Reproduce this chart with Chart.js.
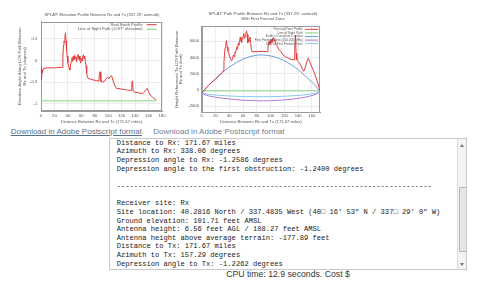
<!DOCTYPE html>
<html>
<head>
<meta charset="utf-8">
<script src="https://cdn.jsdelivr.net/npm/chart.js@4.4.1/dist/chart.umd.min.js"></script>
<style>
  html, body { margin: 0; padding: 0; background: #fff; width: 500px; height: 285px; overflow: hidden; }
  canvas { position: absolute; top: 0; }
  #elevChart { left: 0; }
  #pathChart { left: 168px; }
  .dl { position: absolute; top: 127px; font: 8px "Liberation Sans", Arial, sans-serif; line-height: 10px; white-space: nowrap; }
  #dl1 { left: 10.7px; color: #56728e; text-decoration: underline; }
  #dl2 { left: 153.3px; color: #6f7e8d; }
  #report { position: absolute; left: 109px; top: 138px; width: 356px; height: 130px; border: 1px solid #c9c9c9; overflow: hidden; background: #fff; }
  #report pre { position: absolute; left: 6.7px; top: -0.4px; margin: 0; font: 7.1px "Liberation Mono", "Courier New", monospace; line-height: 8.65px; color: #1a1a1a; }
  #sb { position: absolute; left: 347px; top: 0; width: 9px; height: 130px; background: #f3f3f3; border-left: 1px solid #dcdcdc; }
  #thumb { position: absolute; left: 1px; top: 48px; width: 6px; height: 63px; background: #e6e6e6; border: 1px solid #b5b5b5; border-radius: 1px; }
  .arr { position: absolute; left: 2px; width: 0; height: 0; border-left: 2px solid transparent; border-right: 2px solid transparent; }
  #up { top: 5px; border-bottom: 3px solid #777; }
  #down { top: 124px; border-top: 3px solid #777; }
  #cpu { position: absolute; left: 188px; width: 200px; top: 269px; text-align: center; font: 8.7px "Liberation Sans", Arial, sans-serif; line-height: 10px; color: #333; }
</style>
</head>
<body>
<canvas id="elevChart" width="168" height="126"></canvas>
<canvas id="pathChart" width="172" height="126"></canvas>
<span class="dl" id="dl1">Download in Adobe Postscript format</span>
<span class="dl" id="dl2">Download in Adobe Postscript format</span>
<div id="report">
<pre>Distance to Rx: 171.67 miles
Azimuth to Rx: 338.06 degrees
Depression angle to Rx: -1.2586 degrees
Depression angle to the first obstruction: -1.2400 degrees

--------------------------------------------------------------------------

Receiver site: Rx
Site location: 40.2816 North / 337.4835 West (40□ 16' 53" N / 337□ 29' 0" W)
Ground elevation: 101.71 feet AMSL
Antenna height: 6.56 feet AGL / 108.27 feet AMSL
Antenna height above average terrain: -177.89 feet
Distance to Tx: 171.67 miles
Azimuth to Tx: 157.29 degrees
Depression angle to Tx: -1.2262 degrees
Depression angle to the first obstruction: -1.2290 degrees</pre>
<div id="sb"><div class="arr" id="up"></div><div id="thumb"></div><div class="arr" id="down"></div></div>
</div>
<div id="cpu">CPU time: 12.9 seconds. Cost $</div>

<script>
// ---- elevation profile (left plot): distance in miles, angle in degrees
const elevDist = [
  0, 0.4, 0.8, 1.2, 1.6, 2, 3, 4, 6, 10,
  15, 20, 25, 30, 32, 32.6, 33.4, 34.2, 35, 35.6,
  36.4, 37.2, 38, 39, 40, 41, 42, 43, 44, 45,
  46, 47, 48, 49, 50, 51, 52, 53, 54, 55,
  56, 57, 58, 59, 60, 61, 62, 63, 64, 65,
  66, 67, 68, 69, 70, 74, 78, 82, 86, 87,
  88, 89, 92, 95, 97, 99, 101, 103, 105, 106,
  108, 110, 112, 116, 120, 124, 128, 132, 134, 135,
  136, 137, 139, 143, 147, 151, 153, 155, 157, 158,
  160, 163, 166, 169, 171.67
];
const elevAngle = [
  -0.14, -0.45, -0.3, -0.4, -0.22, -0.28, -0.2, -0.18, -0.18, -0.17,
  -0.17, -0.17, -0.16, -0.16, -0.16, 0.1, 0.35, 0.45, 0.42, 0.55,
  0.64, 0.45, 0.25, 0.1, -0.05, -0.12, -0.18, -0.22, -0.1, -0.03,
  0.06, -0.02, 0.1, 0.02, 0.12, 0.04, 0.08, -0.03, 0.1, 0.14,
  0.03, 0.1, 0.0, -0.06, 0.05, -0.01, 0.09, 0.13, 0.04, 0.1,
  -0.02, -0.12, -0.3, -0.38, -0.41, -0.43, -0.45, -0.46, -0.48, -0.3,
  -0.26, -0.48, -0.5, -0.47, -0.42, -0.38, -0.42, -0.37, -0.35, -0.4,
  -0.5, -0.58, -0.64, -0.65, -0.66, -0.67, -0.68, -0.69, -0.7, -0.55,
  -0.47, -0.68, -0.73, -0.74, -0.75, -0.76, -0.74, -0.7, -0.66, -0.64,
  -0.72, -0.8, -0.85, -0.88, -0.91
];
const losDist = [0, 171.67];
const losAngle = [-0.93, -0.93];
const elevXTicks = [0, 20, 40, 60, 80, 100, 120, 140, 160, 180];
const elevYTicks = [-1, -0.5, 0, 0.5];

// ---- path profile with Fresnel zone (right plot): distance in miles, height in feet
const pathDist = [
  0, 10, 20, 30, 31.5, 32.3, 33, 34, 35, 36,
  37, 38, 40, 42, 43.5, 45, 46, 47, 48, 49,
  50, 51, 52, 53, 54, 55, 56, 57, 58, 59,
  60, 61, 62, 63, 64, 65, 66, 67, 68, 69,
  70, 71, 72, 73, 80, 88, 95, 96, 97, 98,
  99, 100, 101, 102, 103, 104, 105, 106, 107, 108,
  110, 112, 115, 118, 122, 126, 130, 134, 135, 136,
  137, 138, 140, 142, 144, 146, 148, 150, 152, 154,
  155, 156, 158, 160, 162, 164, 166, 168, 170, 171.67
];
const pathHeight = [
  -350, 600, 1350, 2150, 2400, 3400, 4300, 5200, 5700, 6050,
  5300, 4800, 4300, 3800, 3600, 3900, 4300, 4100, 4600, 4500,
  5000, 5300, 5000, 5700, 5500, 6100, 6500, 6000, 5800, 6300,
  6600, 6950, 6300, 6500, 6800, 7250, 6800, 5800, 6200, 6000,
  6500, 5800, 5000, 4700, 4700, 4750, 4700, 5000, 5700, 6000,
  5600, 6000, 6200, 5800, 6300, 6450, 6000, 6200, 5800, 5600,
  5300, 5000, 4700, 4300, 4050, 3900, 3750, 3700, 5000, 6700,
  4500, 3700, 3500, 3300, 3000, 2600, 2300, 2700, 3300, 3800,
  3900, 3600, 3200, 2800, 2400, 2000, 1500, 1000, 400, -80
];
const losPathDist = [0, 171.67];
const losPathHeight = [-100, -100];
const zoneDist = [0, 5, 10, 20, 30, 40, 50, 60, 70, 80, 86, 90, 100, 110, 120, 130, 140, 150, 160, 166, 171.67];
const curveHeight = [-350, 100, 550, 1400, 2150, 2800, 3350, 3800, 4100, 4270, 4300, 4290, 4180, 3950, 3600, 3100, 2500, 1750, 950, 450, -200];
const fresnelHeight = [-350, -600, -720, -880, -1000, -1100, -1180, -1250, -1300, -1320, -1330, -1330, -1310, -1270, -1210, -1130, -1020, -880, -680, -520, -200];
const fresnel60Height = [-350, -450, -520, -610, -680, -730, -770, -800, -815, -820, -820, -820, -810, -790, -760, -720, -660, -580, -470, -380, -200];
const pathXTicks = [0, 20, 40, 60, 80, 100, 120, 140, 160];
const pathYTicks = [-2000, 0, 2000, 4000, 6000];

const FONT = '"Liberation Sans", Arial, sans-serif';
const TEXT = '#555';
const GRID = '#ececec';
const FRAME = '#9a9a9a';

const pts = (xs, ys) => xs.map((x, i) => ({ x: x, y: ys[i] }));

// gnuplot-like extras: closed frame, title lines and a key inside the plot
const gnuplotText = {
	id: 'gnuplotText',
	beforeDatasetsDraw(chart) {
		const a = chart.chartArea, ctx = chart.ctx;
		ctx.save();
		ctx.strokeStyle = FRAME;
		ctx.lineWidth = 1;
		ctx.strokeRect(Math.round(a.left) + 0.5, Math.round(a.top) + 0.5, Math.round(a.right - a.left) - 1, Math.round(a.bottom - a.top) - 1);
		ctx.restore();
	},
	afterDatasetsDraw(chart, args, o) {
		const ctx = chart.ctx;
		ctx.save();
		ctx.fillStyle = TEXT;
		ctx.textBaseline = 'middle';
		ctx.textAlign = 'center';
		ctx.font = o.titleSize + 'px ' + FONT;
		o.title.forEach((t, i) => ctx.fillText(t, o.titleX, o.titleY + i * o.titleStep));
		ctx.textAlign = 'right';
		ctx.font = o.keySize + 'px ' + FONT;
		chart.data.datasets.forEach((ds, i) => {
			const y = o.keyY + i * o.keyStep;
			ctx.fillText(ds.label, o.keyX, y);
			ctx.strokeStyle = ds.borderColor;
			ctx.lineWidth = 1;
			ctx.beginPath();
			ctx.moveTo(o.keyX + o.keyGap, y);
			ctx.lineTo(o.keyX + o.keyGap + o.keyLen, y);
			ctx.stroke();
		});
		ctx.restore();
	}
};

function makeChart(id, datasets, cfg) {
	const font = { family: FONT, size: 4.2 };
	return new Chart(document.getElementById(id), {
		type: 'line',
		data: { datasets: datasets },
		options: {
			responsive: false,
			animation: false,
			layout: { padding: { left: 0, top: cfg.top, right: cfg.right, bottom: 0 }, autoPadding: false },
			elements: { point: { radius: 0 }, line: { borderWidth: 1, tension: 0 } },
			plugins: { legend: { display: false }, tooltip: { enabled: false }, title: { display: false }, gnuplotText: cfg.text },
			scales: {
				x: {
					type: 'linear', min: cfg.xMin, max: cfg.xMax,
					afterBuildTicks: s => { s.ticks = cfg.xTicks.map(v => ({ value: v })); },
					afterFit: s => { s.height = cfg.bottomH; },
					grid: { color: GRID, drawTicks: false },
					border: { color: FRAME },
					ticks: { font: font, color: TEXT, padding: cfg.xPad, maxRotation: 0, autoSkip: false, callback: v => String(v) },
					title: { display: true, text: 'Distance Between Rx and Tx (171.67 miles)', font: font, color: TEXT, padding: { top: 0, bottom: 1.2 } }
				},
				y: {
					type: 'linear', min: cfg.yMin, max: cfg.yMax,
					afterBuildTicks: s => { s.ticks = cfg.yTicks.map(v => ({ value: v })); },
					afterFit: s => { s.width = cfg.leftW; },
					grid: { color: GRID, drawTicks: false },
					border: { color: FRAME },
					ticks: { font: font, color: TEXT, padding: cfg.yPad, autoSkip: false, callback: v => String(v) },
					title: { display: true, text: cfg.yTitle, font: { family: FONT, size: 4.2, lineHeight: cfg.yTitleLH }, color: TEXT, padding: { top: cfg.yTitlePad, bottom: 0 } }
				}
			}
		},
		plugins: [gnuplotText]
	});
}

makeChart('elevChart', [
	{ label: 'Real Earth Profile', data: pts(elevDist, elevAngle), borderColor: '#e23c3c' },
	{ label: 'Line of Sight Path (-0.97° elevation)', data: pts(losDist, losAngle), borderColor: '#86d186' }
], {
	top: 21.7, right: 5, leftW: 41, bottomH: 15,
	xMin: 0, xMax: 180, yMin: -1.164, yMax: 0.894,
	xTicks: elevXTicks, yTicks: elevYTicks, xPad: 2.5, yPad: 3.7,
	yTitle: ['Elevation Angle Along LOS Path Between', 'Rx and Tx (degrees)'], yTitleLH: 1.2, yTitlePad: 17.5,
	text: {
		title: ['SPLAT! Elevation Profile Between Rx and Tx (337.29° azimuth)'], titleX: 102, titleY: 15, titleStep: 4.7, titleSize: 4.1,
		keyX: 142.7, keyY: 24.7, keyStep: 4.6, keySize: 4.1, keyGap: 4, keyLen: 10
	}
});

makeChart('pathChart', [
	{ label: 'Point-to-Point Profile', data: pts(pathDist, pathHeight), borderColor: '#e23c3c' },
	{ label: 'Line of Sight Path', data: pts(losPathDist, losPathHeight), borderColor: '#86d186' },
	{ label: "Earth's Curvature Contour", data: pts(zoneDist, curveHeight), borderColor: '#6e9fe0' },
	{ label: 'First Fresnel Zone (100.000 MHz)', data: pts(zoneDist, fresnelHeight), borderColor: '#b07ad6' },
	{ label: '60% of First Fresnel Zone', data: pts(zoneDist, fresnel60Height), borderColor: '#86c9ee' }
], {
	top: 26, right: 20, leftW: 33.7, bottomH: 13.3,
	xMin: 0, xMax: 171.67, yMin: -2780, yMax: 7850,
	xTicks: pathXTicks, yTicks: pathYTicks, xPad: 0.8, yPad: 2.7,
	yTitle: ['Height Referenced To LOS Path Between', 'Rx and Tx (feet)'], yTitleLH: 1.05, yTitlePad: 6.5,
	text: {
		title: ['SPLAT! Path Profile Between Rx and Tx (337.29° azimuth)', 'With First Fresnel Zone'], titleX: 95, titleY: 14.3, titleStep: 4.7, titleSize: 4.2,
		keyX: 134.7, keyY: 29.3, keyStep: 3.6, keySize: 3.2, keyGap: 2.3, keyLen: 13.3
	}
});
</script>
</body>
</html>
